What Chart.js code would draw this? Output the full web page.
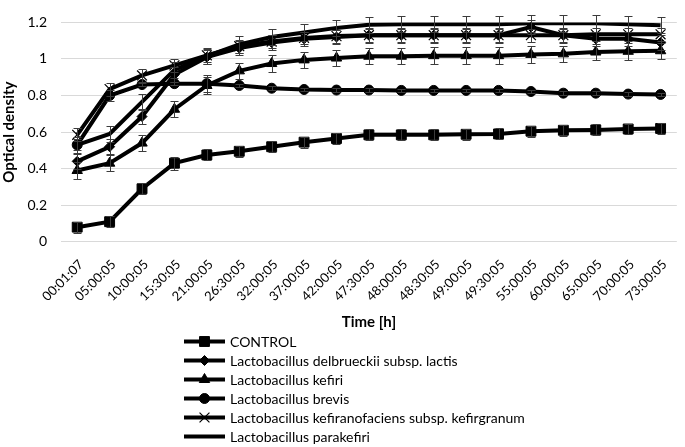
<!DOCTYPE html>
<html><head><meta charset="utf-8">
<script src="https://cdn.jsdelivr.net/npm/chart.js@4/dist/chart.umd.min.js"></script>
<style>html,body{margin:0;padding:0;background:#fff;}#wrap{width:685px;height:447px;position:relative;}</style>
</head><body><div id="wrap"><canvas id="c" width="685" height="447"></canvas></div>
<script>
const timeLabels = ["00:01:07","05:00:05","10:00:05","15:30:05","21:00:05","26:30:05","32:00:05","37:00:05","42:00:05","47:30:05","48:00:05","48:30:05","49:00:05","49:30:05","55:00:05","60:00:05","65:00:05","70:00:05","73:00:05"];
const yTickLabels = ["0","0.2","0.4","0.6","0.8","1","1.2"];
const seriesNames = ["CONTROL","Lactobacillus delbrueckii subsp. lactis","Lactobacillus kefiri","Lactobacillus brevis","Lactobacillus kefiranofaciens subsp. kefirgranum","Lactobacillus parakefiri"];

const control = [0.08,0.11,0.29,0.43,0.475,0.495,0.52,0.545,0.565,0.585,0.585,0.585,0.588,0.59,0.605,0.61,0.612,0.617,0.62];
const delbrueckii = [0.44,0.52,0.685,0.915,1.01,1.06,1.09,1.11,1.12,1.13,1.13,1.13,1.13,1.13,1.175,1.13,1.11,1.11,1.09];
const kefiri = [0.39,0.43,0.54,0.725,0.855,0.935,0.975,0.995,1.005,1.015,1.015,1.018,1.018,1.018,1.025,1.028,1.038,1.042,1.045];
const brevis = [0.53,0.80,0.86,0.865,0.865,0.855,0.84,0.833,0.83,0.83,0.828,0.828,0.828,0.828,0.822,0.813,0.813,0.808,0.806];
const kefiranofaciens = [0.585,0.835,0.91,0.965,1.02,1.07,1.095,1.115,1.125,1.13,1.13,1.13,1.13,1.13,1.13,1.13,1.135,1.135,1.135];
const parakefiri = [0.53,0.59,0.765,0.94,1.015,1.08,1.12,1.145,1.17,1.187,1.19,1.19,1.19,1.19,1.195,1.195,1.195,1.19,1.185];

const controlErr = [0.03,0.03,0.03,0.035,0.03,0.03,0.03,0.03,0.03,0.03,0.03,0.03,0.03,0.03,0.03,0.03,0.03,0.03,0.03];
const delbrueckiiErr = [0.04,0.04,0.04,0.04,0.04,0.04,0.04,0.04,0.04,0.04,0.04,0.04,0.04,0.04,0.04,0.04,0.04,0.04,0.04];
const kefiriErr = [0.045,0.045,0.045,0.045,0.045,0.045,0.045,0.045,0.045,0.045,0.045,0.045,0.045,0.045,0.045,0.045,0.045,0.045,0.045];
const brevisErr = [0.03,0.03,0.01,0.01,0.045,0.01,0.01,0.01,0.01,0.01,0.01,0.01,0.01,0.01,0.01,0.01,0.01,0.01,0.01];
const kefiranofaciensErr = [0.035,0.035,0.035,0.035,0.035,0.035,0.035,0.035,0.035,0.035,0.035,0.035,0.035,0.035,0.035,0.035,0.035,0.035,0.035];
const parakefiriErr = [0.045,0.045,0.045,0.045,0.045,0.045,0.045,0.045,0.045,0.045,0.045,0.045,0.045,0.045,0.045,0.045,0.045,0.045,0.045];

const FONT = "Lato, 'Open Sans', sans-serif";
const styles = [
  {pointStyle:'rect', radius:7},
  {pointStyle:'rectRot', radius:5},
  {pointStyle:'triangle', radius:6},
  {pointStyle:'circle', radius:5},
  {pointStyle:'crossRot', radius:7},
  {pointStyle:false, radius:0}
];
const values = [control, delbrueckii, kefiri, brevis, kefiranofaciens, parakefiri];
const errs = [controlErr, delbrueckiiErr, kefiriErr, brevisErr, kefiranofaciensErr, parakefiriErr];

const datasets = seriesNames.map((name, i) => ({
  label: name,
  data: values[i],
  errors: errs[i],
  borderColor: '#000',
  backgroundColor: '#000',
  borderWidth: 4,
  tension: 0,
  pointStyle: styles[i].pointStyle || 'circle',
  pointRadius: styles[i].radius,
  pointBackgroundColor: '#000',
  pointBorderColor: '#000',
  pointBorderWidth: styles[i].pointStyle === 'crossRot' ? 1.2 : 1,
  order: i
}));

const errorBars = {
  id: 'errorBars',
  afterDatasetsDraw(chart) {
    const ctx = chart.ctx, ys = chart.scales.y;
    ctx.save();
    ctx.strokeStyle = '#3c3c3c';
    ctx.lineWidth = 1;
    chart.data.datasets.forEach((ds, i) => {
      const meta = chart.getDatasetMeta(i);
      meta.data.forEach((pt, j) => {
        const v = ds.data[j], e = ds.errors[j];
        const px = Math.round(pt.x) + 0.5;
        const yt = Math.round(ys.getPixelForValue(v + e)) + 0.5;
        const yb = Math.round(ys.getPixelForValue(v - e)) + 0.5;
        ctx.beginPath();
        ctx.moveTo(px, yt); ctx.lineTo(px, yb);
        ctx.moveTo(px - 4, yt); ctx.lineTo(px + 4, yt);
        ctx.moveTo(px - 4, yb); ctx.lineTo(px + 4, yb);
        ctx.stroke();
      });
    });
    ctx.restore();
  }
};

const sideLegend = {
  id: 'listLegend',
  afterDraw(chart) {
    const ctx = chart.ctx;
    const x0 = 184, x1 = 225, tx = 230, y0 = 341.5, dy = 19;
    ctx.save();
    chart.data.datasets.forEach((ds, i) => {
      const y = y0 + i * dy;
      ctx.strokeStyle = '#000';
      ctx.lineWidth = 4;
      ctx.beginPath(); ctx.moveTo(x0, y); ctx.lineTo(x1, y); ctx.stroke();
      if (styles[i].pointStyle) {
        ctx.fillStyle = '#000'; ctx.strokeStyle = '#000';
        ctx.lineWidth = ds.pointBorderWidth;
        Chart.helpers.drawPoint(ctx, {pointStyle: styles[i].pointStyle, radius: styles[i].radius, borderWidth: ds.pointBorderWidth, rotation: 0}, (x0 + x1) / 2, y);
      }
      ctx.fillStyle = '#000';
      ctx.font = "14px " + FONT;
      ctx.textAlign = 'left';
      ctx.textBaseline = 'middle';
      ctx.fillText(ds.label, tx, y + 0.5);
    });
    ctx.restore();
  }
};

new Chart(document.getElementById('c'), {
  type: 'line',
  data: { labels: timeLabels, datasets },
  options: {
    responsive: false,
    animation: false,
    devicePixelRatio: 1,
    layout: { padding: { top: 18, right: 1, bottom: 115.6, left: 0 } },
    plugins: { legend: { display: false }, tooltip: { enabled: false } },
    scales: {
      x: {
        type: 'category',
        offset: true,
        grid: { display: false },
        border: { display: false },
        ticks: { color: '#000', font: { family: FONT, size: 13 }, minRotation: 45, maxRotation: 45, autoSkip: false, padding: 7, labelOffset: 4 },
        title: { display: true, text: 'Time [h]', color: '#000', font: { family: FONT, size: 15, weight: 'bold' }, padding: 0 },
        afterFit(scale) { scale.height = 89.6; }
      },
      y: {
        min: 0, max: 1.2,
        grid: { color: '#d9d9d9', lineWidth: 1, drawTicks: false },
        border: { display: false },
        ticks: { stepSize: 0.2, color: '#000', padding: 14, font: { family: FONT, size: 14 },
          callback: (v, idx) => yTickLabels[idx] },
        title: { display: true, text: 'Optical density', color: '#000', font: { family: FONT, size: 15, weight: 'bold' }, padding: 0 },
        afterFit(scale) { scale.width = 61; }
      }
    }
  },
  plugins: [errorBars, sideLegend]
});
</script></body></html>
